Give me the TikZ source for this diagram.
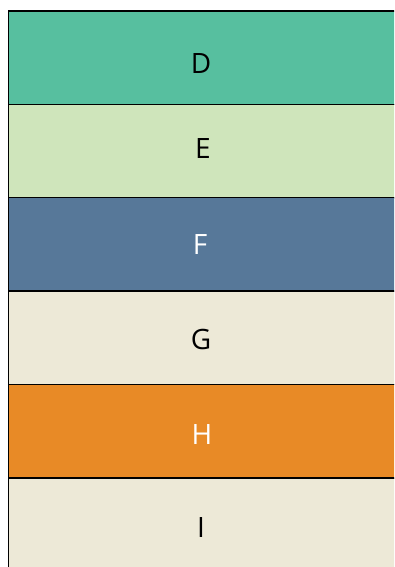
\documentclass[tikz,border=0pt]{standalone}
\usepackage{fontspec}
\setmainfont{Open Sans}
\definecolor{cD}{HTML}{57BF9F}
\definecolor{cE}{HTML}{CFE5BB}
\definecolor{cF}{HTML}{577899}
\definecolor{cG}{HTML}{EDE9D7}
\definecolor{cH}{HTML}{E88A26}
\definecolor{cI}{HTML}{EDE9D7}
\begin{document}
\begin{tikzpicture}[x=1pt,y=-1pt,
  band/.style={draw=black,line width=1.3pt,rectangle,anchor=north west,inner sep=0pt,
    minimum width=400pt,minimum height=93.5pt},
  lbl/.style={anchor=base,inner sep=0pt,font=\fontsize{28}{30}\selectfont}]
\useasboundingbox (0,0) rectangle (394,567);
\clip (0,0) rectangle (394,567);
\node[band,fill=cD] (bD) at (7.5,10.5) {};
\node[band,fill=cE] (bE) at (7.5,103.8) {};
\node[band,fill=cF] (bF) at (7.5,197.1) {};
\node[band,fill=cG] (bG) at (7.5,290.4) {};
\node[band,fill=cH] (bH) at (7.5,383.9) {};
\node[band,fill=cI] (bI) at (7.5,477.5) {};
\node[lbl,text=black] (tD) at (201,73.3) {D};
\node[lbl,text=black] (tE) at (203,158.3) {E};
\node[lbl,text=white] (tF) at (200,254.7) {F};
\node[lbl,text=black] (tG) at (201,349) {G};
\node[lbl,text=white] (tH) at (202,444.5) {H};
\node[lbl,text=black] (tI) at (201,537) {I};
\end{tikzpicture}
\end{document}
